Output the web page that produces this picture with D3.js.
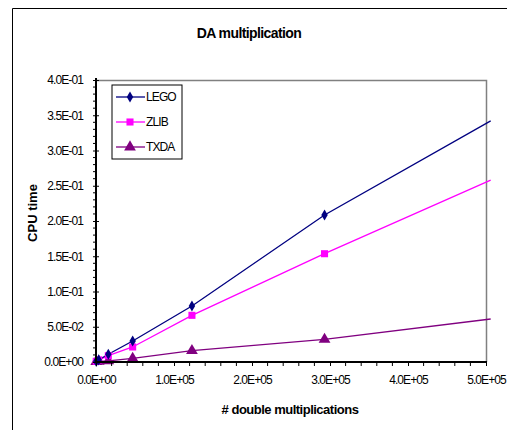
<!DOCTYPE html>
<html>
<head>
<meta charset="utf-8">
<script src="https://cdn.jsdelivr.net/npm/d3@7"></script>
<style>
  body { margin: 0; background: #fff; }
  svg { display: block; font-family: "Liberation Sans", Arial, sans-serif; }
</style>
</head>
<body>
<svg id="chart" width="507" height="430"></svg>
<script>
// Data
const xValues = [300, 3500, 15800, 47000, 123000, 293000, 506000];
const lego = [0.001, 0.003, 0.011, 0.0298, 0.0794, 0.2085, 0.342];
const zlib = [0.001, 0.003, 0.009, 0.0213, 0.0662, 0.1536, 0.258];
const txda = [0.0005, 0.001, 0.0015, 0.005, 0.016, 0.032, 0.061];
const seriesNames = ["LEGO", "ZLIB", "TXDA"];
const seriesColors = ["#000080", "#ff00ff", "#800080"];
const seriesShapes = [d3.symbolDiamond, d3.symbolSquare, d3.symbolTriangle];
const xTicks = [0, 100000, 200000, 300000, 400000, 500000];
const yTicks = [0, 0.05, 0.1, 0.15, 0.2, 0.25, 0.3, 0.35, 0.4];

const svg = d3.select("#chart");

// outer chart frame (only left and top visible)
svg.append("path")
  .attr("d", "M12.5,430 V8.5 H507")
  .attr("fill", "none")
  .attr("stroke", "#000")
  .attr("stroke-width", 1);

// Title
svg.append("text")
  .attr("x", 249)
  .attr("y", 38)
  .attr("text-anchor", "middle")
  .attr("font-size", 14)
  .attr("font-weight", "bold")
  .attr("letter-spacing", -0.6)
  .text("DA multiplication");

const plotLeft = 96, plotRight = 486, plotTop = 80, plotBottom = 362;
const xScale = d3.scaleLinear().domain([0, 500000]).range([plotLeft, plotRight]);
const yScale = d3.scaleLinear().domain([0, 0.4]).range([plotBottom, plotTop]);

// plot area border: top and right gray
svg.append("path")
  .attr("d", `M${plotLeft},${plotTop + 0.5} H${plotRight + 0.5} V${plotBottom}`)
  .attr("fill", "none")
  .attr("stroke", "#808080")
  .attr("stroke-width", 1.5);

// clip for lines (slightly past the plot area, as in the original)
svg.append("clipPath").attr("id", "plotclip")
  .append("rect")
  .attr("x", plotLeft).attr("y", plotTop - 5)
  .attr("width", plotRight - plotLeft + 5).attr("height", plotBottom - plotTop + 10);

const line = d3.line()
  .x((d) => xScale(d.x))
  .y((d) => yScale(d.y));

const allSeries = [lego, zlib, txda].map((vals, i) => ({
  name: seriesNames[i],
  color: seriesColors[i],
  shape: seriesShapes[i],
  points: vals.map((v, j) => ({ x: xValues[j], y: v }))
}));

function markerSize(shape) {
  return shape === d3.symbolTriangle ? 60 : shape === d3.symbolSquare ? 50 : 36;
}

// draw from back (TXDA) to front (LEGO)
allSeries.slice().reverse().forEach((s) => {
  svg.append("path")
    .datum(s.points)
    .attr("clip-path", "url(#plotclip)")
    .attr("fill", "none")
    .attr("stroke", s.color)
    .attr("stroke-width", 1.3)
    .attr("d", line);
});
allSeries.slice().reverse().forEach((s) => {
  svg.append("g")
    .selectAll("path")
    .data(s.points.filter((p) => p.x <= 500000))
    .join("path")
    .attr("transform", (d) => `translate(${xScale(d.x)},${yScale(d.y)})`)
    .attr("d", d3.symbol().type(s.shape).size(markerSize(s.shape)))
    .attr("fill", s.color);
});

// Y axis
const yAxis = d3.axisLeft(yScale)
  .tickValues(yTicks)
  .tickFormat((d) => d === 0 ? "0.0E+00" : d3.format(".1e")(d).replace("e-", "E-0"))
  .tickSize(3)
  .tickPadding(10);
const yg = svg.append("g").attr("transform", `translate(${plotLeft},0)`).call(yAxis);
yg.select(".domain").attr("stroke-width", 2).attr("d", `M0,${plotTop - 2}V${plotBottom + 1}`);
yg.selectAll(".tick line").attr("x2", 3).attr("x1", -3);
yg.selectAll(".tick text")
  .attr("font-size", 12).attr("letter-spacing", -0.9).attr("font-family", "Liberation Sans, Arial");
// y minor ticks
svg.append("g").selectAll("line")
  .data(d3.range(0, 0.4001, 0.01).filter((v) => Math.round(v * 100) % 5 !== 0))
  .join("line")
  .attr("x1", plotLeft - 3).attr("x2", plotLeft)
  .attr("y1", (d) => yScale(d)).attr("y2", (d) => yScale(d))
  .attr("stroke", "#000");

// X axis
const xAxis = d3.axisBottom(xScale)
  .tickValues(xTicks)
  .tickFormat((d) => d === 0 ? "0.0E+00" : d3.format(".1e")(d).replace("e+", "E+0"))
  .tickSize(4)
  .tickPadding(9);
const xg = svg.append("g").attr("transform", `translate(0,${plotBottom})`).call(xAxis);
xg.select(".domain").attr("stroke-width", 2).attr("d", `M${plotLeft - 1},0H${plotRight + 1}`);
xg.selectAll(".tick text")
  .attr("font-size", 12).attr("letter-spacing", -0.9).attr("font-family", "Liberation Sans, Arial");
// x minor ticks
svg.append("g").selectAll("line")
  .data(d3.range(20000, 500000, 20000).filter((v) => v % 100000 !== 0))
  .join("line")
  .attr("x1", (d) => xScale(d)).attr("x2", (d) => xScale(d))
  .attr("y1", plotBottom).attr("y2", plotBottom + 4)
  .attr("stroke", "#000");

// Axis titles
svg.append("text")
  .attr("x", 290)
  .attr("y", 414)
  .attr("text-anchor", "middle")
  .attr("font-size", 13)
  .attr("font-weight", "bold")
  .attr("letter-spacing", -0.5)
  .text("# double multiplications");

svg.append("text")
  .attr("transform", "translate(37,213) rotate(-90)")
  .attr("text-anchor", "middle")
  .attr("font-size", 13)
  .attr("font-weight", "bold")
  .text("CPU time");

// Legend
const legend = svg.append("g").attr("transform", "translate(112,85)");
legend.append("rect")
  .attr("x", 0).attr("y", 0)
  .attr("width", 70).attr("height", 74)
  .attr("fill", "#fff")
  .attr("stroke", "#000")
  .attr("stroke-width", 1);
allSeries.forEach((s, i) => {
  const cy = 12 + i * 25;
  legend.append("line")
    .attr("x1", 4).attr("x2", 33)
    .attr("y1", cy).attr("y2", cy)
    .attr("stroke", s.color).attr("stroke-width", 1.3);
  legend.append("path")
    .attr("transform", `translate(18,${cy})`)
    .attr("d", d3.symbol().type(s.shape).size(markerSize(s.shape)))
    .attr("fill", s.color);
  legend.append("text")
    .attr("x", 34).attr("y", cy + 4)
    .attr("font-size", 12)
    .attr("letter-spacing", -0.9)
    .text(s.name);
});
</script>
</body>
</html>
